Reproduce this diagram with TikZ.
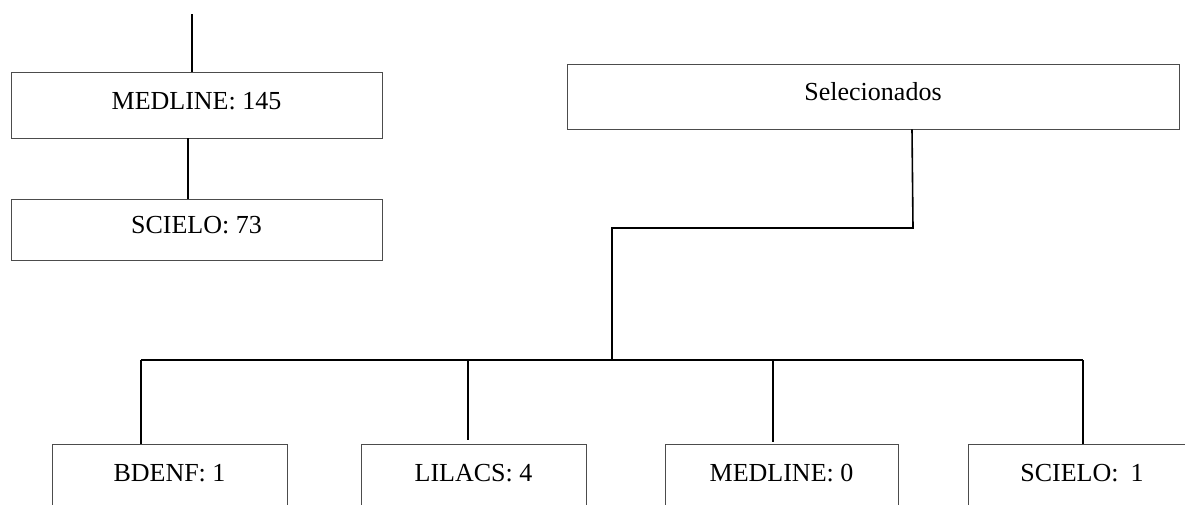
\documentclass[tikz,border=0pt]{standalone}
\usepackage{fontspec}
\setmainfont{Liberation Serif}
\begin{document}
\begin{tikzpicture}[x=1pt,y=-1pt,
  box/.style={draw=black!70, line width=0.9pt, inner sep=0pt,
    text height=18pt, text depth=10pt, font=\fontsize{26}{30}\selectfont},
  base/.style={box, anchor=north, text depth=70pt, inner ysep=19pt},
  link/.style={line width=1.6pt}]
  \useasboundingbox (0,0) rectangle (1185,504);
  \clip (0,0) rectangle (1185,504);
  % left column
  \node[box, minimum width=371pt, minimum height=66pt] (med) at (196.5,105) {MEDLINE: 145};
  \node[box, minimum width=371pt, minimum height=61pt] (sci) at (196.5,229.5) {SCIELO: 73};
  \coordinate (in) at (192,14);
  \draw[link] (in) -- (in |- med.north);
  \draw[link] ([xshift=-8.5pt]med.south) -- ([xshift=-8.5pt]sci.north);
  % selected
  \node[box, minimum width=612pt, minimum height=65pt] (sel) at (873,96.5) {Selecionados};
  \coordinate (k1) at (913,228);
  \coordinate (k2) at (612,228);
  \coordinate (k3) at (612,360);
  \draw[link] ([xshift=39pt]sel.south) -- (k1) -- (k2) -- (k3);
  % bottom row
  \foreach \n/\x/\w/\t in {
    bdenf/169.5/235pt/{BDENF: 1},
    lilacs/473.5/225pt/{LILACS: 4},
    medb/781.5/233pt/{MEDLINE: 0},
    scib/1082/228pt/{SCIELO:\hspace{12pt}1}}
    \node[base, minimum width=\w] (\n) at (\x,444) {\t};
  \coordinate (b1) at (141,360);
  \coordinate (b2) at (468,360);
  \coordinate (b3) at (773,360);
  \coordinate (b4) at (1083,360);
  \draw[link] (b1) -- (b4);
  \draw[link] (b1) -- (b1 |- bdenf.north);
  \draw[link, shorten >=4pt] (b2) -- (b2 |- lilacs.north);
  \draw[link, shorten >=2pt] (b3) -- (b3 |- medb.north);
  \draw[link] (b4) -- (b4 |- scib.north);
\end{tikzpicture}
\end{document}
